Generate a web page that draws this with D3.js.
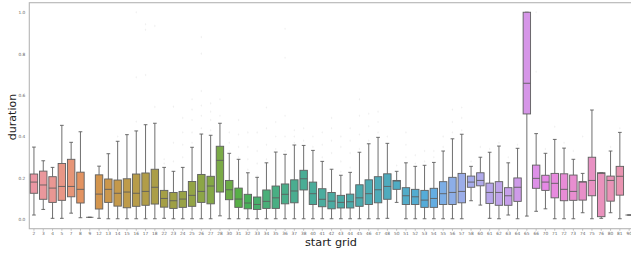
<!DOCTYPE html>
<html>
<head>
<meta charset="utf-8">
<script src="https://cdn.jsdelivr.net/npm/d3@7"></script>
<style>
  body { margin: 0; background: #ffffff; }
  svg { display: block; font-family: "DejaVu Sans", sans-serif; }
</style>
</head>
<body>
<script>
// start grid categories (x axis)
var categories = ["2","3","4","5","7","8","9","12","13","14","15","16","17","18",
  "22","23","24","25","26","27","28","30","31","32","33","34","35","36","37","38",
  "40","41","42","43","44","45","46","47","48","50","51","52","53","54","55","56","57","58",
  "60","61","62","63","64","65","66","70","71","72","73","74","75","76","80","81","90"];

// box stats per category
var whiskerLow = [0.021,0.048,0.005,0.005,0.030,0.008,0.010,0.005,0.003,0.003,0.003,0.003,0.003,0.003,
  0.005,0.003,0.003,0.003,0.003,0.003,0.017,0.003,0.003,0.003,0.003,0.003,0.003,0.003,0.003,0.003,
  0.003,0.003,0.003,0.003,0.003,0.003,0.003,0.003,0.005,0.082,0.003,0.003,0.003,0.003,0.003,0.003,0.003,0.090,
  0.069,0.005,0.003,0.021,0.003,0.016,0.039,0.051,0.003,0.003,0.003,0.032,0.003,0.005,0.032,0.003,0.021];
var q1 = [0.126,0.097,0.082,0.092,0.109,0.079,0.010,0.050,0.082,0.064,0.056,0.063,0.068,0.074,
  0.059,0.053,0.058,0.063,0.082,0.075,0.132,0.095,0.058,0.051,0.048,0.053,0.053,0.075,0.080,0.142,
  0.072,0.061,0.051,0.055,0.055,0.063,0.072,0.080,0.097,0.145,0.072,0.072,0.058,0.058,0.072,0.072,0.080,0.155,
  0.162,0.077,0.068,0.068,0.087,0.509,0.150,0.140,0.104,0.090,0.092,0.093,0.114,0.013,0.088,0.117,0.021];
var median = [0.180,0.166,0.151,0.159,0.159,0.145,0.010,0.122,0.145,0.126,0.132,0.126,0.135,0.155,
  0.101,0.090,0.098,0.116,0.135,0.161,0.285,0.143,0.098,0.079,0.072,0.087,0.104,0.121,0.137,0.196,
  0.124,0.097,0.088,0.082,0.085,0.104,0.124,0.143,0.159,0.185,0.114,0.109,0.093,0.101,0.124,0.130,0.135,0.180,
  0.188,0.130,0.130,0.114,0.155,0.657,0.198,0.180,0.174,0.145,0.135,0.180,0.188,0.222,0.188,0.208,0.021];
var q3 = [0.219,0.233,0.206,0.270,0.290,0.228,0.010,0.215,0.195,0.190,0.196,0.219,0.224,0.242,
  0.140,0.130,0.135,0.183,0.217,0.208,0.353,0.188,0.151,0.121,0.108,0.142,0.161,0.171,0.191,0.237,
  0.180,0.148,0.130,0.116,0.122,0.167,0.191,0.206,0.220,0.188,0.153,0.145,0.140,0.150,0.182,0.203,0.222,0.209,
  0.225,0.175,0.182,0.153,0.200,1.000,0.262,0.213,0.222,0.220,0.214,0.182,0.300,0.225,0.209,0.256,0.021];
var whiskerHigh = [0.349,0.283,0.251,0.454,0.372,0.423,0.010,0.257,0.317,0.377,0.409,0.427,0.457,0.464,
  0.251,0.232,0.251,0.348,0.412,0.406,0.464,0.319,0.290,0.225,0.203,0.273,0.325,0.314,0.359,0.357,
  0.333,0.280,0.242,0.213,0.227,0.324,0.365,0.396,0.367,0.232,0.273,0.256,0.261,0.275,0.330,0.389,0.411,0.256,
  0.300,0.324,0.354,0.273,0.343,1.000,0.414,0.319,0.386,0.344,0.290,0.222,0.528,0.225,0.330,0.420,0.021];

// faint outlier points (rough)
var outliers = [[],[],[],[],[],[],[],[],[],[0.40],[],[0.472,0.686,1.0],[0.697,0.915,0.942],[0.543,0.934],
  [0.27,0.29],[0.28,0.37,0.544],[0.30,0.36,0.42,0.49],[0.37,0.42,0.48,0.53,0.58],[0.44,0.50,0.55,0.62,0.80,0.88],[0.43,0.48,0.52,0.56],[0.50,0.58],
  [0.33,0.37,0.42],[0.30,0.35,0.41,0.48],[0.24,0.29,0.35,0.42],[0.21,0.27,0.33,0.42],[0.29,0.36,0.44,0.54],[0.34,0.40,0.47],[0.33,0.40,0.50,0.78,0.92],[0.37,0.40,0.43],[0.38,0.44],
  [0.35,0.40],[0.30,0.36,0.42],[0.32,0.38,0.44,0.49],[0.23,0.28,0.35,0.40],[0.25,0.32,0.38,0.44],[0.34,0.41,0.50,0.58],[0.38,0.45,0.51],[0.42,0.47,0.52],[0.40],[0.26],
  [0.30,0.36,0.42],[0.27,0.31],[0.28,0.33],[0.30,0.33],[0.35,0.40],[0.42,0.47,0.53],[0.43,0.49,0.54],[0.28],
  [0.35],[0.34],[0.37],[0.30],[0.36],[],[0.713,1.0],[0.34],[0.447],[0.37],[0.33],[0.40],[],[],[0.35],[0.44],[]];

var yTicks = [0.0, 0.2, 0.4, 0.6, 0.8, 1.0];
var xTitle = "start grid";
var yTitle = "duration";

var width = 631, height = 256;

// seaborn-like husl palette (hsluv), then desaturated
var M = [[3.240969941904521,-1.537383177570093,-0.498610760293],
  [-0.96924363628087,1.87596750150772,0.041555057407175],
  [0.055630079696993,-0.20397695888897,1.056971514242878]];
function huslToRgb(h, s, l) {
  var sub1 = Math.pow(l + 16, 3) / 1560896;
  var sub2 = sub1 > 0.0088564516 ? sub1 : l / 903.2962962;
  var hrad = h / 360 * 2 * Math.PI;
  var maxC = Infinity;
  for (var c = 0; c < 3; c++) {
    var m1 = M[c][0], m2 = M[c][1], m3 = M[c][2];
    for (var t = 0; t < 2; t++) {
      var top1 = (284517 * m1 - 94839 * m3) * sub2;
      var top2 = (838422 * m3 + 769860 * m2 + 731718 * m1) * l * sub2 - 769860 * t * l;
      var bottom = (632260 * m3 - 126452 * m2) * sub2 + 126452 * t;
      var len = (top2 / bottom) / (Math.sin(hrad) - (top1 / bottom) * Math.cos(hrad));
      if (len >= 0) maxC = Math.min(maxC, len);
    }
  }
  var C = maxC / 100 * s;
  var U = Math.cos(hrad) * C, V = Math.sin(hrad) * C;
  var varU = U / (13 * l) + 0.19783000664283, varV = V / (13 * l) + 0.46831999493879;
  var Y = l <= 8 ? l / 903.2962962 : Math.pow((l + 16) / 116, 3);
  var X = 0 - (9 * Y * varU) / ((varU - 4) * varV - varU * varV);
  var Z = (9 * Y - 15 * varV * Y - varV * X) / (3 * varV);
  return M.map(function (r) {
    var v = r[0] * X + r[1] * Y + r[2] * Z;
    v = v <= 0.0031308 ? 12.92 * v : 1.055 * Math.pow(v, 1 / 2.4) - 0.055;
    return Math.max(0, Math.min(1, v));
  });
}
function getColors(n) {
  var cols = [];
  for (var i = 0; i < n; i++) {
    var h = ((i / n) + 0.01) % 1 * 359;
    var rgb = huslToRgb(h, 0.9 * 99, 0.7 * 99);
    var hsl = d3.hsl(d3.rgb(rgb[0] * 255, rgb[1] * 255, rgb[2] * 255));
    hsl.s = hsl.s * 0.75;
    cols.push(hsl);
  }
  return cols;
}
var colors = getColors(categories.length);
var gray = "#5e5e5e";

var svg = d3.select("body").append("svg").attr("width", width).attr("height", height);

var left = 29.3, step = 9.3;
var x = d3.scaleBand().domain(categories).range([left, left + categories.length * step]).padding(0);
var y = d3.scaleLinear().domain([-0.045, 1.046]).range([228.7, 2.7]);

// spines
svg.append("rect")
  .attr("x", x.range()[0]).attr("y", y.range()[1])
  .attr("width", x.range()[1] - x.range()[0]).attr("height", y.range()[0] - y.range()[1])
  .attr("fill", "none").attr("stroke", "#b5b5b5").attr("stroke-width", 1.1);

var bw = x.bandwidth() * 0.8;
var capw = bw * 0.5;
var boxes = categories.map(function (c, i) {
  return { cat: c, lo: whiskerLow[i], q1: q1[i], med: median[i], q3: q3[i], hi: whiskerHigh[i], out: outliers[i], color: colors[i] };
});

var g = svg.append("g");
var cx = function (d) { return x(d.cat) + x.bandwidth() / 2; };

// fliers
boxes.forEach(function (d) {
  g.selectAll(null).data(d.out).enter().append("path")
    .attr("d", d3.symbol().type(d3.symbolDiamond).size(2))
    .attr("transform", function (v) { return "translate(" + cx(d) + "," + y(v) + ")"; })
    .attr("fill", gray).attr("opacity", 0.1);
});

// whiskers
g.selectAll(".wlo").data(boxes).enter().append("line")
  .attr("x1", cx).attr("x2", cx)
  .attr("y1", function (d) { return y(d.q1); }).attr("y2", function (d) { return y(d.lo); })
  .attr("stroke", gray).attr("stroke-width", 0.9);
g.selectAll(".whi").data(boxes).enter().append("line")
  .attr("x1", cx).attr("x2", cx)
  .attr("y1", function (d) { return y(d.q3); }).attr("y2", function (d) { return y(d.hi); })
  .attr("stroke", gray).attr("stroke-width", 0.9);
// caps
["lo", "hi"].forEach(function (k) {
  g.selectAll(".cap" + k).data(boxes).enter().append("line")
    .attr("x1", function (d) { return cx(d) - capw / 2; })
    .attr("x2", function (d) { return cx(d) + capw / 2; })
    .attr("y1", function (d) { return y(d[k]); }).attr("y2", function (d) { return y(d[k]); })
    .attr("stroke", gray).attr("stroke-width", 0.9);
});

// boxes
g.selectAll(".box").data(boxes).enter().append("rect")
  .attr("x", function (d) { return cx(d) - bw / 2; })
  .attr("y", function (d) { return y(d.q3); })
  .attr("width", bw)
  .attr("height", function (d) { return y(d.q1) - y(d.q3); })
  .attr("fill", function (d) { return d.color; })
  .attr("stroke", gray).attr("stroke-width", 0.9);

// medians
g.selectAll(".med").data(boxes).enter().append("line")
  .attr("x1", function (d) { return cx(d) - bw / 2; })
  .attr("x2", function (d) { return cx(d) + bw / 2; })
  .attr("y1", function (d) { return y(d.med); }).attr("y2", function (d) { return y(d.med); })
  .attr("stroke", gray).attr("stroke-width", 0.9);

// axes
var xAxis = svg.append("g").attr("transform", "translate(0," + y.range()[0] + ")")
  .call(d3.axisBottom(x).tickSize(2).tickPadding(1.5));
var yAxis = svg.append("g").attr("transform", "translate(" + x.range()[0] + ",0)")
  .call(d3.axisLeft(y).tickValues(yTicks).tickFormat(d3.format(".1f")).tickSize(0).tickPadding(4));
[xAxis, yAxis].forEach(function (a) {
  a.select(".domain").remove();
  a.selectAll(".tick line").attr("stroke", "#bdbdbd");
  a.selectAll(".tick text").attr("fill", "#666").style("font-size", "4.3px").style("font-family", "DejaVu Sans");
});

svg.append("text").attr("x", 331).attr("y", 246).attr("text-anchor", "middle")
  .style("font-size", "11.3px").attr("fill", "#222").text(xTitle);
svg.append("text").attr("transform", "translate(16,117) rotate(-90)").attr("text-anchor", "middle")
  .style("font-size", "11px").attr("fill", "#222").text(yTitle);
</script>
</body>
</html>
